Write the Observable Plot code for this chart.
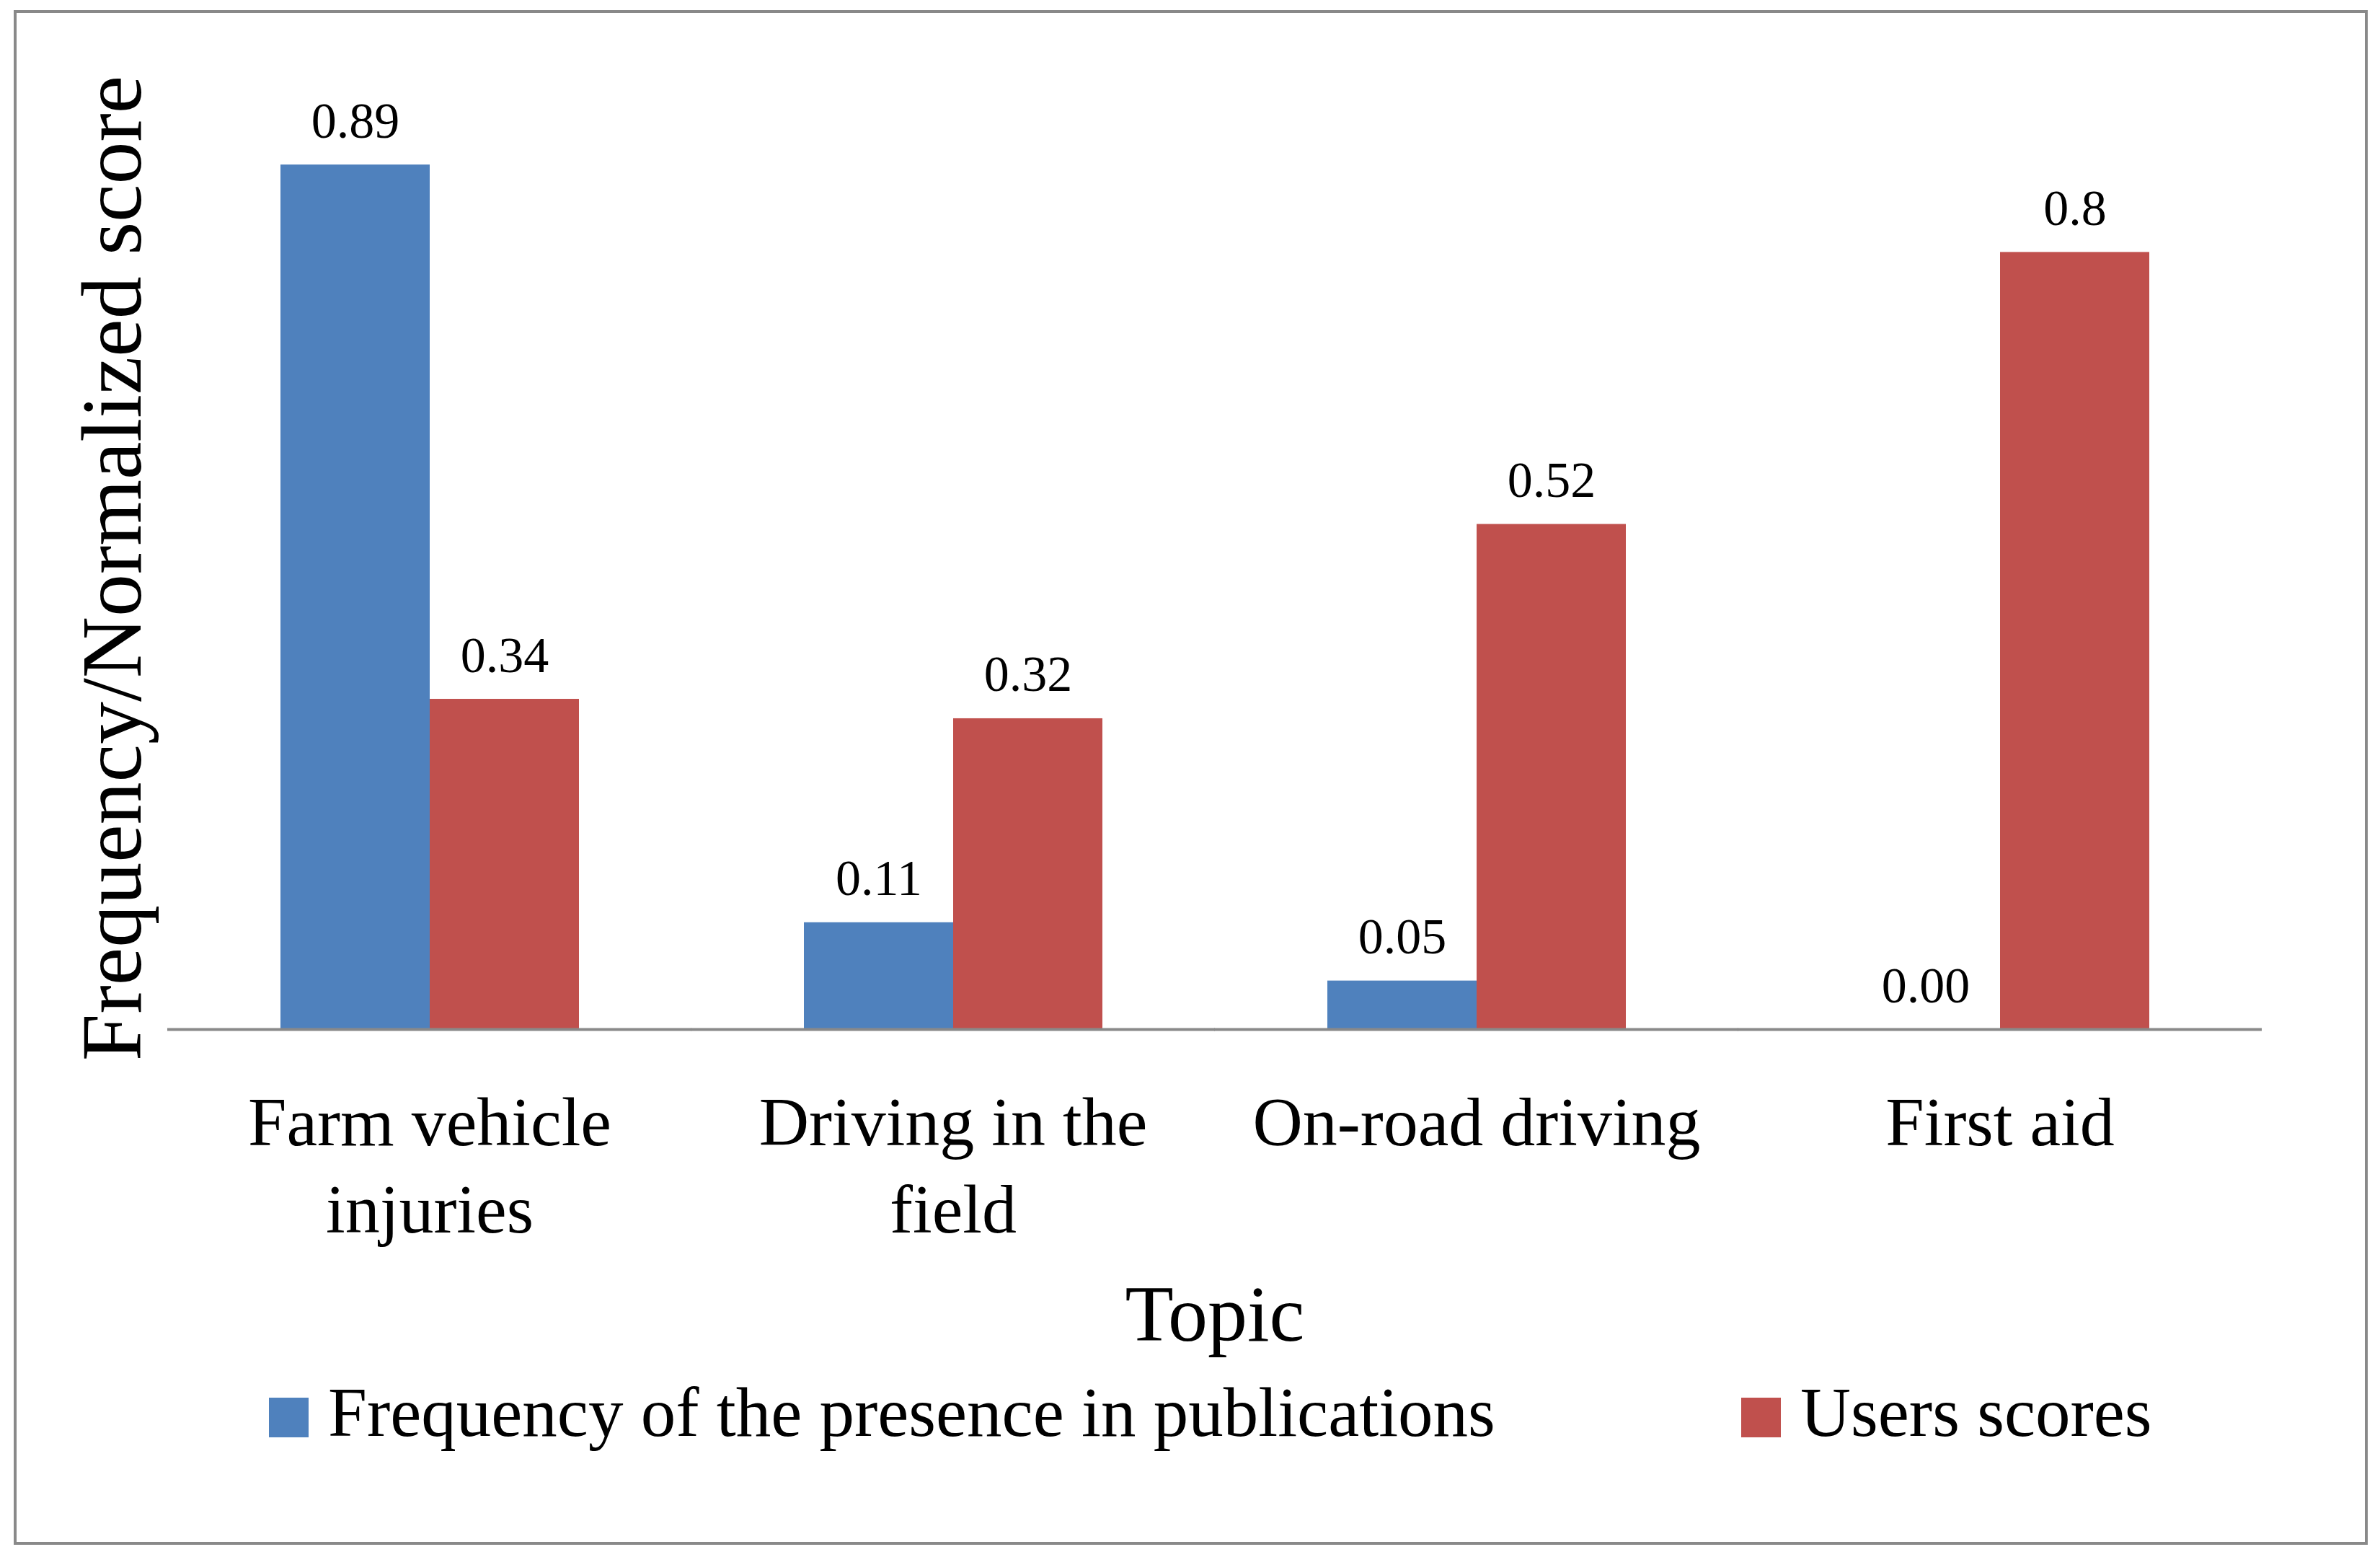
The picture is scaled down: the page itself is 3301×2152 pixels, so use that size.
<!DOCTYPE html>
<html>
<head>
<meta charset="utf-8">
<script src="https://cdn.jsdelivr.net/npm/d3@7"></script>
<script src="https://cdn.jsdelivr.net/npm/@observablehq/plot@0.6"></script>
<style>
  html, body { margin: 0; padding: 0; background: #ffffff; }
  #wrap { position: relative; width: 3301px; height: 2152px; overflow: hidden; background: #ffffff; }
  #frame { position: absolute; left: 19px; top: 14px; width: 3265px; height: 2128px; border: 4px solid #898989; box-sizing: border-box; }
  #chart { position: absolute; left: 0; top: 0; }
  .sw { position: absolute; width: 55px; height: 55px; }
  .lt { position: absolute; font-family: "Liberation Serif", serif; font-size: 97px; line-height: 97px; white-space: nowrap; color: #000; }
</style>
</head>
<body>
<div id="wrap">
  <div id="frame"></div>
  <div id="chart"></div>
  <div id="legend"></div>
</div>
<script>
// ---- data ----
const categories = ["Farm vehicle injuries", "Driving in the field", "On-road driving", "First aid"];
const tickLabels = ["Farm vehicle\ninjuries", "Driving in the\nfield", "On-road driving", "First aid"];
const series = ["Frequency of the presence in publications", "Users scores"];
const frequency = [0.89, 0.11, 0.05, 0.00];
const frequencyLabels = ["0.89", "0.11", "0.05", "0.00"];
const userScores = [0.34, 0.32, 0.52, 0.8];
const userLabels = ["0.34", "0.32", "0.52", "0.8"];
const xTitle = "Topic";
const yTitle = "Frequency/Normalized score";

const colors = ["#4F81BD", "#C0504D"];

const data = categories.flatMap((c, i) => [
  {topic: c, series: series[0], value: frequency[i], label: frequencyLabels[i]},
  {topic: c, series: series[1], value: userScores[i], label: userLabels[i]}
]);

const chart = Plot.plot({
  width: 3301,
  height: 1900,
  marginLeft: 232,
  marginRight: 164,
  marginTop: 80,
  marginBottom: 473,
  style: {fontFamily: '"Liberation Serif", serif', background: "transparent", color: "#000"},
  fx: {domain: categories, paddingInner: 0.4286, paddingOuter: 0.2143, label: null},
  x: {domain: series, padding: 0, axis: null},
  y: {domain: [0, 1], axis: null},
  color: {domain: series, range: colors},
  marks: [
    Plot.barY(data, {fx: "topic", x: "series", y: "value", fill: "series"}),
    Plot.ruleY([0], {stroke: "#898989", strokeWidth: 4, insetLeft: -156, insetRight: -156}),
    Plot.text(data, {fx: "topic", x: "series", y: "value", text: "label", lineAnchor: "bottom", dy: -38, fontSize: 70, fill: "#000"}),
    Plot.axisFx({anchor: "bottom", tickSize: 0, tickPadding: 75, label: null,
      tickFormat: d => tickLabels[categories.indexOf(d)], fontSize: 96, lineHeight: 1.26, fill: "#000"}),
    Plot.text([yTitle], {facet: "super", text: d => d, frameAnchor: "middle", textAnchor: "middle", lineAnchor: "middle",
      rotate: -90, dx: -1528, dy: 34, fontSize: 118, fill: "#000"}),
    Plot.text([xTitle], {facet: "super", text: d => d, frameAnchor: "bottom", lineAnchor: "bottom", dy: 431, fontSize: 110, fill: "#000"})
  ]
});
document.getElementById("chart").appendChild(chart);

// ---- legend (HTML, below the SVG) ----
const legend = document.getElementById("legend");
const legendPos = [{sw: 373, tx: 455}, {sw: 2415, tx: 2497}];
series.forEach((s, i) => {
  const sw = document.createElement("div");
  sw.className = "sw";
  sw.style.left = legendPos[i].sw + "px";
  sw.style.top = "1938px";
  sw.style.background = colors[i];
  legend.appendChild(sw);
  const t = document.createElement("div");
  t.className = "lt";
  t.style.left = legendPos[i].tx + "px";
  t.style.top = "1910px";
  t.textContent = s;
  legend.appendChild(t);
});
</script>
</body>
</html>
